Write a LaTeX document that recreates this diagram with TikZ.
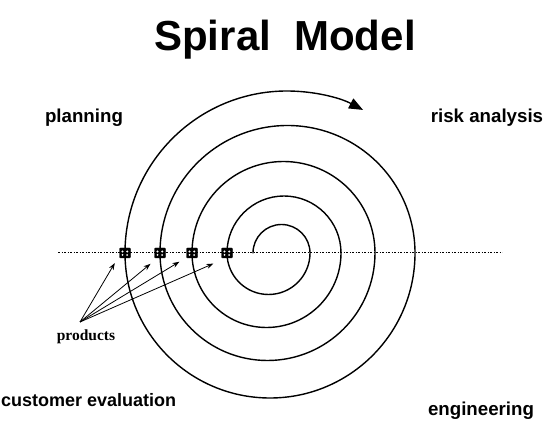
\documentclass[tikz,border=0pt]{standalone}
\usepackage{fontspec}
\setmainfont{Liberation Sans}
\newfontfamily\serifb{Liberation Serif}
\usetikzlibrary{arrows.meta}
\begin{document}
\begin{tikzpicture}[x=1pt,y=1pt,
  spiralline/.style={line width=1.4pt,line cap=round},
  axisline/.style={line width=1pt,dash pattern=on 2.4pt off 1.3pt on 1pt off 1.3pt},
  prodbox/.style={fill=black,draw=black,rounded corners=1pt,minimum width=11pt,minimum height=10pt,inner sep=0pt},
  prodarrow/.style={line width=0.8pt,-{Stealth[length=7pt,width=5pt]},shorten >=1pt},
  quadlabel/.style={font=\bfseries\fontsize{18.7}{20}\selectfont,inner sep=0pt},
]
\useasboundingbox (0,0) rectangle (557,436);
% title
\node[font=\bfseries\fontsize{42}{46}\selectfont,inner sep=0pt] (title) at (285,396) {Spiral\ \ Model};
% quadrant labels
\node[quadlabel] (plan) at (84,318) {planning};
\node[quadlabel] (risk) at (487,318) {risk analysis};
\node[quadlabel,anchor=west,font=\bfseries\fontsize{18}{20}\selectfont] (cust) at (1,36) {customer evaluation};
\node[quadlabel] (eng) at (481,25) {engineering};
% axis
\coordinate (axL) at (58,183);
\coordinate (axR) at (502,183);
\draw[axisline] (axL) -- (axR);
% spiral
\draw[spiralline,-{Triangle[length=14pt,width=11pt]}] (253,183)
  arc[start angle=180,end angle=0,radius=28.5pt]
  arc[start angle=0,end angle=-180,radius=41.5pt]
  arc[start angle=180,end angle=0,radius=57pt]
  arc[start angle=0,end angle=-180,radius=74.5pt]
  arc[start angle=180,end angle=0,radius=91.5pt]
  arc[start angle=0,end angle=-180,radius=107.5pt]
  arc[start angle=180,end angle=0,radius=127.5pt]
  arc[start angle=0,end angle=-180,radius=145pt]
  arc[start angle=180,end angle=62,radius=162pt];
% product boxes
\foreach \i/\x in {1/125,2/160,3/192,4/227}{
  \node[prodbox] (p\i) at (\x,183) {};
  \fill[white] (\x-2.5,184.5) circle (1.1pt) (\x+2.2,184.5) circle (1.1pt)
               (\x-2.5,181) circle (1pt) (\x+2.2,181) circle (1pt);
}
% products label and arrows
\node[font=\serifb\bfseries\fontsize{15.5}{17}\selectfont,inner sep=0pt] (prod) at (86,99) {products};
\coordinate (src) at (80,114);
\draw[prodarrow] (src) -- ([shift={(-4pt,-4pt)}]p1.south west);
\draw[prodarrow] (src) -- ([shift={(-3pt,-5pt)}]p2.south west);
\draw[prodarrow] (src) -- ([shift={(-6pt,-3pt)}]p3.south west);
\draw[prodarrow] (src) -- ([shift={(-7pt,-5pt)}]p4.south west);
\end{tikzpicture}
\end{document}
